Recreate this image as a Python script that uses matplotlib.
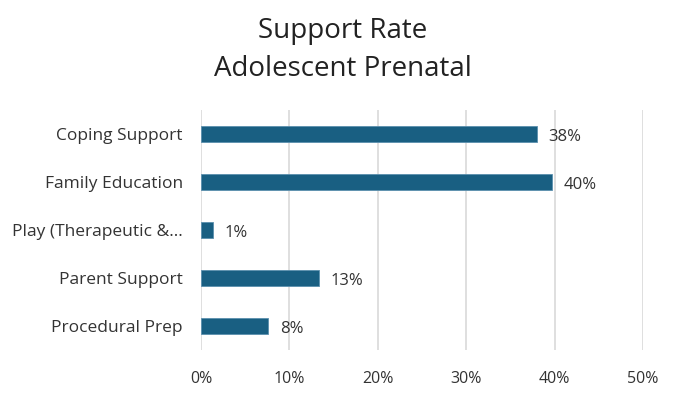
import matplotlib
matplotlib.use("Agg")
import matplotlib.pyplot as plt
from matplotlib.ticker import FuncFormatter

categories = ["Coping Support", "Family Education", "Play (Therapeutic &...", "Parent Support", "Procedural Prep"]
values = [38.0, 39.7, 1.4, 13.3, 7.6]
value_labels = ["38%", "40%", "1%", "13%", "8%"]
x_ticks = [0, 10, 20, 30, 40, 50]

plt.rcParams['font.family'] = ['Open Sans', 'DejaVu Sans']

fig = plt.figure(figsize=(6.94, 4.13), dpi=100)
ax = fig.add_axes([0.2896, 0.1525, 0.6369, 0.5812])

ypos = list(range(len(categories)))
ax.barh(ypos, values, height=0.35, color="#195f82", edgecolor="#5b8fae", linewidth=0.6, zorder=3)
for y, v, lab in zip(ypos, values, value_labels):
    ax.text(v + 1.3, y + 0.06, lab, va="center", ha="left", fontsize=12, color="#333333")

ax.set_yticks(ypos)
ax.set_yticklabels(categories, fontsize=12.5, color="#333333")
ax.set_ylim(len(categories) - 0.5, -0.5)
ax.set_xlim(0, 50)
ax.set_xticks(x_ticks)
ax.xaxis.set_major_formatter(FuncFormatter(lambda v, p: f"{int(v)}%"))
ax.tick_params(axis='x', labelsize=11.5, colors="#333333", length=0, pad=15)
ax.tick_params(axis='y', length=0, pad=13)
ax.grid(axis='x', color="#d9d9d9", linewidth=1.2, zorder=0)
for s in ax.spines.values():
    s.set_visible(False)

fig.text(0.494, 0.925, "Support Rate", ha="center", va="center", fontsize=20, color="#222222")
fig.text(0.494, 0.833, "Adolescent Prenatal", ha="center", va="center", fontsize=20, color="#222222")

fig.savefig("out.png", dpi=100)
